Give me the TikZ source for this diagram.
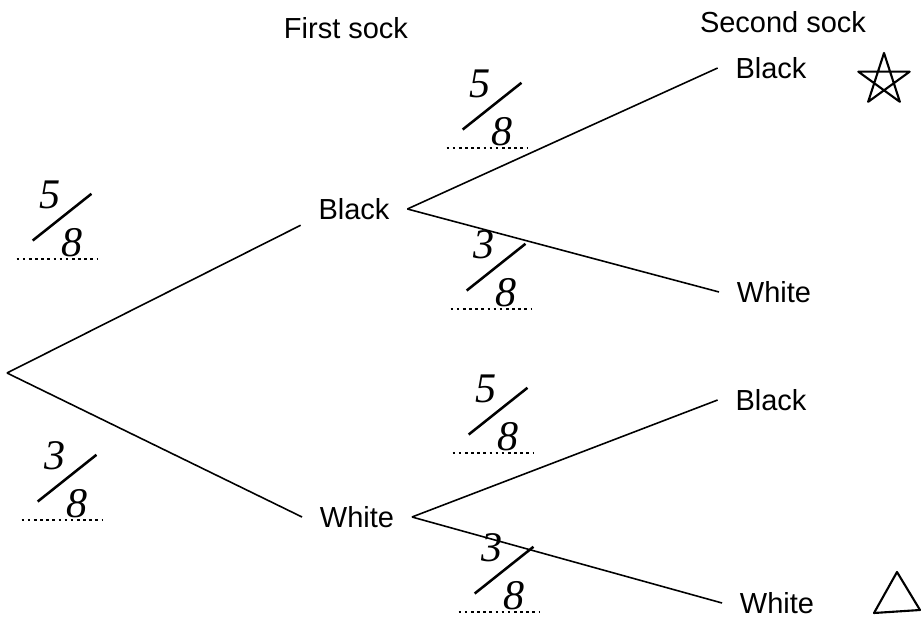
\documentclass[tikz,border=0pt]{standalone}
\usepackage{fontspec}
\setmainfont{Liberation Sans}
\newfontfamily\handfont{Liberation Serif}
\usepackage{graphicx}

% slanted hand-written fraction
\newcommand{\handfrac}[2]{%
  \rlap{\hspace{0.17em}\raisebox{1.13em}{#1}}%
  \rlap{\raisebox{0.355em}{\rotatebox{38.5}{\rule{1.78em}{0.06em}}}}%
  \hspace{0.69em}#2\hspace{0.2em}}

\begin{document}
\begin{tikzpicture}[x=0.02cm, y=-0.02cm,
  lbl/.style={font=\fontsize{16.5}{20}\selectfont, inner xsep=10pt, inner ysep=3pt},
  frac/.style={font=\handfont\itshape\fontsize{24}{28}\selectfont, inner sep=1pt,
    minimum width=1.6cm, anchor=south},
  answer/.style={line width=1.6pt, dash pattern=on 1.5pt off 2pt},
  branch/.style={line width=0.9pt},
  scribble/.style={line width=1.2pt, line join=round, line cap=round}]
\useasboundingbox (0,0) rectangle (922,621);

%headings
\node[lbl] (first) at (346,28) {First sock};
\node[lbl] (second) at (783,22) {Second sock};

%first sock
\coordinate (root) at (7,373);
\node[lbl] (b1) at (354,209) {Black};
\node[lbl] (w1) at (357,517) {White};

%second sock
\node[lbl] (bb) at (771,68) {Black};
\node[lbl] (bw) at (774,292) {White};
\node[lbl] (wb) at (771,400) {Black};
\node[lbl] (ww) at (777,603) {White};

%branches
\draw[branch] (root) -- (b1.south west);
\draw[branch] (root) -- (w1.west);
\foreach \a/\b in {b1/bb, b1/bw, w1/wb, w1/ww}
\draw[branch] (\a.east) -- (\b.west);

%probabilities
\foreach \name/\x/\y/\n in {fb/57/259/5, fw/62/520/3, fbb/487/148/5,
  fbw/491/309/3, fwb/493/453/5, fww/499/612/3}
{
\node[frac] (\name) at (\x,\y) {\handfrac{\n}{8}};
\draw[answer] (\name.south west) -- (\name.south east);
}

%marks
\draw[scribble, shift={(884,80)}] (270:27) -- (54:27) -- (198:27) -- (342:27) -- (126:27) -- cycle;
\draw[scribble] (897,572) -- (874,613) -- (920,610) -- cycle;

\end{tikzpicture}
\end{document}
